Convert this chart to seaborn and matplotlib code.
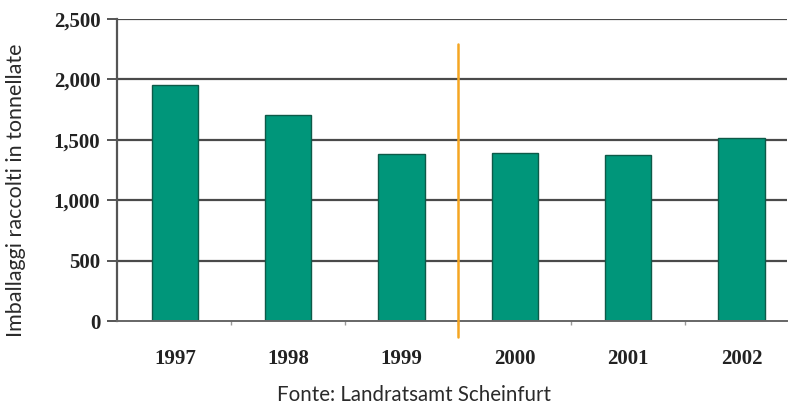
import numpy as np
import pandas as pd
import seaborn as sns
import matplotlib.pyplot as plt
from matplotlib.ticker import FuncFormatter

# Dati
anni = ['1997', '1998', '1999', '2000', '2001', '2002']
tonnellate = [1955, 1710, 1380, 1390, 1375, 1515]
yticks = [0, 500, 1000, 1500, 2000, 2500]

df = pd.DataFrame({'anno': anni, 'tonnellate': tonnellate})

sns.set_style('white')
plt.rcParams['font.family'] = ['DejaVu Sans']

fig = plt.figure(figsize=(7.88, 4.05), dpi=100)
ax = fig.add_axes([0.1485, 0.207, 0.85, 0.746])

# griglia orizzontale
for v in yticks[1:]:
    ax.axhline(v, color='#4a4a4a', lw=1.6, zorder=0)

sns.barplot(data=df, x='anno', y='tonnellate', color='#00967A', width=0.41,
            edgecolor='#0d5a48', linewidth=1.0, saturation=1, ax=ax, zorder=2)

ax.set_ylim(0, 2500)
ax.set_xlim(-0.51, 5.4)
ax.set_yticks(yticks)
ax.yaxis.set_major_formatter(FuncFormatter(lambda v, p: f'{int(v):,}'))

# linea verticale arancione tra 1999 e 2000
ax.plot([2.5, 2.5], [-130, 2290], color='#F5A623', lw=1.8, clip_on=False, zorder=3)

for s in ['top', 'right']:
    ax.spines[s].set_visible(False)
ax.spines['left'].set_color('#555555')
ax.spines['left'].set_linewidth(1.6)
ax.spines['bottom'].set_color('#666666')
ax.spines['bottom'].set_linewidth(1.4)

ax.tick_params(axis='y', length=7, width=1.4, color='#555555', pad=5, left=True)
ax.tick_params(axis='x', length=0, pad=20)
ax.set_xticks(np.arange(0.5, 5.5, 1), minor=True)
ax.tick_params(axis='x', which='minor', length=3, width=1, color='#999999', bottom=True)

for lab in ax.get_yticklabels() + ax.get_xticklabels():
    lab.set_fontfamily('Liberation Serif')
    lab.set_fontweight('bold')
    lab.set_fontsize(15)
    lab.set_color('#222222')

ax.set_xlabel('')
ax.set_ylabel('')
fig.text(0.02, 0.53, 'Imballaggi raccolti in tonnellate', rotation=90,
         ha='center', va='center', fontsize=15.5, color='#2a2a2a', family='Lato')
fig.text(0.525, 0.024, 'Fonte: Landratsamt Scheinfurt', ha='center', va='center',
         fontsize=14.8, color='#2a2a2a', family='Lato')

fig.savefig('out.png', dpi=100, facecolor='white')
